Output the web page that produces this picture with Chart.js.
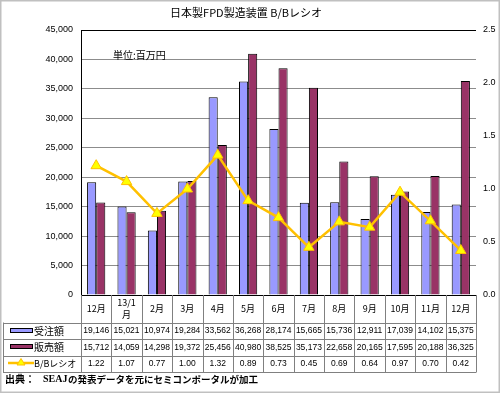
<!DOCTYPE html>
<html><head><meta charset="utf-8">
<script src="https://cdn.jsdelivr.net/npm/chart.js@4.4.1/dist/chart.umd.min.js"></script>
<style>html,body{margin:0;padding:0;background:#fff}#wrap{width:500px;height:393px;position:relative}</style>
</head><body><div id="wrap"><canvas id="c" width="500" height="393"></canvas></div>
<script>
const categories = ['12月','13/1\n月','2月','3月','4月','5月','6月','7月','8月','9月','10月','11月','12月'];
const orders = [19146,15021,10974,19284,33562,36268,28174,15665,15736,12911,17039,14102,15375];
const sales  = [15712,14059,14298,19372,25456,40980,38525,35173,22658,20165,17595,20188,36325];
const bbRatio = [1.22,1.07,0.77,1.00,1.32,0.89,0.73,0.45,0.69,0.64,0.97,0.70,0.42];
const seriesNames = ['受注額','販売額','B/Bレシオ'];
const titleText = '日本製FPD製造装置 B/Bレシオ';
const unitText = '単位:百万円';
const sourceHead = '出典：';
const sourceOrg = 'SEAJ';
const sourceRest = 'の発表データを元にセミコンポータルが加工';

const C_ORD = '#9999FF', C_SAL = '#993366', C_LINE = '#FFC000', C_PT = '#FFFF00';
const NUM_FONT = '8.5px "Liberation Sans", Arial, sans-serif';
const JP = '"Noto Sans CJK JP", sans-serif';

const fmt = v => v.toLocaleString('en-US');

const tablePlugin = {
  id: 'tablePlugin',
  afterDraw(chart) {
    const ctx = chart.ctx, x = chart.scales.x, area = chart.chartArea;
    const L = area.left, R = area.right, top = area.bottom;
    const rows = [top, 322.5, 339, 355.5, 371.5];
    const n = categories.length;
    const w = (R - L) / n;
    ctx.save();
    ctx.strokeStyle = '#c0c0c0'; ctx.lineWidth = 1.5;
    ctx.strokeRect(0.75, 0.75, 498.5, 391.5);
    ctx.fillStyle = '#000';
    ctx.font = '11px ' + JP; ctx.textAlign = 'center'; ctx.textBaseline = 'middle';
    ctx.fillText(titleText, 246, 13);
    ctx.textAlign = 'left';
    ctx.font = '10px ' + JP;
    ctx.fillText(unitText, 113, 55);
    ctx.strokeStyle = '#808080'; ctx.lineWidth = 1;
    ctx.beginPath();
    for (let i = 1; i < rows.length; i++) {
      ctx.moveTo(3, Math.round(rows[i]) + 0.5); ctx.lineTo(R + 0.5, Math.round(rows[i]) + 0.5);
    }
    ctx.moveTo(3.5, rows[1]); ctx.lineTo(3.5, rows[4] + 0.5);
    for (let i = 0; i <= n; i++) {
      const px = Math.round(L + i * w) + 0.5;
      ctx.moveTo(px, top); ctx.lineTo(px, rows[4] + 0.5);
    }
    ctx.stroke();
    ctx.fillStyle = '#000'; ctx.textAlign = 'center'; ctx.textBaseline = 'middle';
    for (let i = 0; i < n; i++) {
      const cx = x.getPixelForValue(i);
      ctx.font = '9px ' + JP;
      const parts = categories[i].split('\n');
      if (parts.length === 1) ctx.fillText(parts[0], cx, 309);
      else { ctx.fillText(parts[0], cx, 303); ctx.fillText(parts[1], cx, 315); }
      ctx.font = NUM_FONT;
      ctx.fillText(fmt(orders[i]), cx, 331);
      ctx.fillText(fmt(sales[i]), cx, 347.5);
      ctx.fillText(bbRatio[i].toFixed(2), cx, 364);
    }
    ctx.lineWidth = 1; ctx.strokeStyle = '#000';
    ctx.fillStyle = C_ORD; ctx.fillRect(10, 328, 23, 5); ctx.strokeRect(10.5, 328.5, 22, 4);
    ctx.fillStyle = C_SAL; ctx.fillRect(10, 344, 23, 5); ctx.strokeRect(10.5, 344.5, 22, 4);
    ctx.strokeStyle = C_LINE; ctx.lineWidth = 2.5;
    ctx.beginPath(); ctx.moveTo(8, 363); ctx.lineTo(34, 363); ctx.stroke();
    ctx.fillStyle = C_PT; ctx.strokeStyle = C_LINE; ctx.lineWidth = 1;
    ctx.beginPath(); ctx.moveTo(21, 358.5); ctx.lineTo(25, 365); ctx.lineTo(17, 365); ctx.closePath(); ctx.fill(); ctx.stroke();
    ctx.fillStyle = '#000'; ctx.textAlign = 'left'; ctx.font = '10px ' + JP;
    ctx.fillText(seriesNames[0], 34, 331);
    ctx.fillText(seriesNames[1], 34, 347.5);
    ctx.font = '9px ' + JP;
    ctx.fillText(seriesNames[2], 34, 364);
    ctx.font = 'bold 10px ' + JP;
    ctx.fillText(sourceHead, 5, 379);
    ctx.font = 'bold 10px "Liberation Serif", serif';
    ctx.fillText(sourceOrg, 43, 379);
    ctx.font = 'bold 9.5px ' + JP;
    ctx.fillText(sourceRest, 68, 379);
    ctx.restore();
  }
};

new Chart(document.getElementById('c'), {
  type: 'bar',
  data: {
    labels: categories,
    datasets: [
      { type: 'line', label: seriesNames[2], data: bbRatio, yAxisID: 'y1', order: 0,
        borderColor: C_LINE, borderWidth: 2.5, backgroundColor: C_PT,
        pointStyle: 'triangle', pointRadius: 6, pointBackgroundColor: C_PT, pointBorderColor: C_LINE, pointBorderWidth: 1,
        tension: 0, fill: false },
      { label: seriesNames[0], data: orders, yAxisID: 'y', order: 1, backgroundColor: C_ORD, borderColor: '#000', borderWidth: 1,
        categoryPercentage: 0.6, barPercentage: 1.0 },
      { label: seriesNames[1], data: sales, yAxisID: 'y', order: 1, backgroundColor: C_SAL, borderColor: '#000', borderWidth: 1,
        categoryPercentage: 0.6, barPercentage: 1.0 }
    ]
  },
  options: {
    responsive: false, animation: false, devicePixelRatio: 1,
    layout: { padding: { left: 0, right: 0, top: 30, bottom: 98 } },
    plugins: { legend: { display: false }, title: { display: false }, tooltip: { enabled: false } },
    scales: {
      x: { display: false, offset: true },
      y: { position: 'left', min: 0, max: 45000,
        ticks: { stepSize: 5000, padding: 8, color: '#000', font: { family: '"Liberation Sans", Arial, sans-serif', size: 9 }, callback: v => fmt(v) },
        grid: { drawTicks: false, color: c => (c.tick && (c.tick.value === 45000 || c.tick.value === 0)) ? '#000' : '#8c8c8c', lineWidth: 1 },
        border: { display: true, color: '#000', width: 1 },
        afterFit: s => { s.width = 81; } },
      y1: { position: 'right', min: 0, max: 2.5,
        ticks: { stepSize: 0.5, padding: 7, color: '#000', font: { family: '"Liberation Sans", Arial, sans-serif', size: 9 }, callback: v => v.toFixed(1) },
        grid: { display: false, drawTicks: false },
        border: { display: false },
        afterFit: s => { s.width = 24; } }
    }
  },
  plugins: [tablePlugin]
});
</script></body></html>
